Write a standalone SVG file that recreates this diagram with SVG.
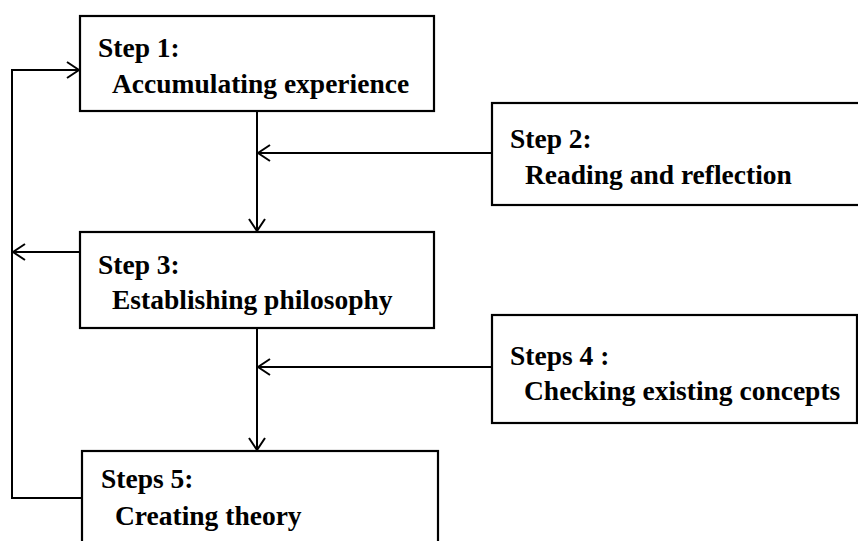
<svg xmlns="http://www.w3.org/2000/svg" width="858" height="541" viewBox="0 0 858 541">
<defs>
<marker id="arr" viewBox="0 0 14 18" refX="13" refY="9" markerWidth="14" markerHeight="18" markerUnits="userSpaceOnUse" orient="auto">
<path d="M1,1 L13,9 L1,17" fill="none" stroke="#000" stroke-width="2"/>
</marker>
<style>
.box{fill:#fff;stroke:#000;stroke-width:2.2}
.t{font-family:"Liberation Serif","Times New Roman",serif;font-weight:bold;font-size:27.5px;fill:#000}
.c{fill:none;stroke:#000;stroke-width:2}
</style>
</defs>
<rect width="858" height="541" fill="#fff"/>
<g id="connectors">
<path class="c" d="M82,498 L12,498 L12,70 L79,70" marker-end="url(#arr)"/>
<path class="c" d="M80,252 L13,252" marker-end="url(#arr)"/>
<path class="c" d="M257,111 L257,231" marker-end="url(#arr)"/>
<path class="c" d="M492,153 L258,153" marker-end="url(#arr)"/>
<path class="c" d="M257,328 L257,450" marker-end="url(#arr)"/>
<path class="c" d="M492,367 L258,367" marker-end="url(#arr)"/>
</g>
<g id="step1">
<rect class="box" x="80" y="16" width="354" height="95"/>
<text class="t" x="98" y="57">Step 1:</text>
<text class="t" x="112" y="93">Accumulating experience</text>
</g>
<g id="step2">
<rect class="box" x="492" y="103" width="370" height="102"/>
<text class="t" x="510" y="148">Step 2:</text>
<text class="t" x="525" y="184">Reading and reflection</text>
</g>
<g id="step3">
<rect class="box" x="80" y="232" width="354" height="96"/>
<text class="t" x="98" y="274">Step 3:</text>
<text class="t" x="112" y="309">Establishing philosophy</text>
</g>
<g id="step4">
<rect class="box" x="492" y="315" width="365" height="108"/>
<text class="t" x="510" y="365">Steps 4 :</text>
<text class="t" x="524" y="400">Checking existing concepts</text>
</g>
<g id="step5">
<rect class="box" x="82" y="451" width="356" height="100"/>
<text class="t" x="101" y="488">Steps 5:</text>
<text class="t" x="115" y="525">Creating theory</text>
</g>
</svg>
